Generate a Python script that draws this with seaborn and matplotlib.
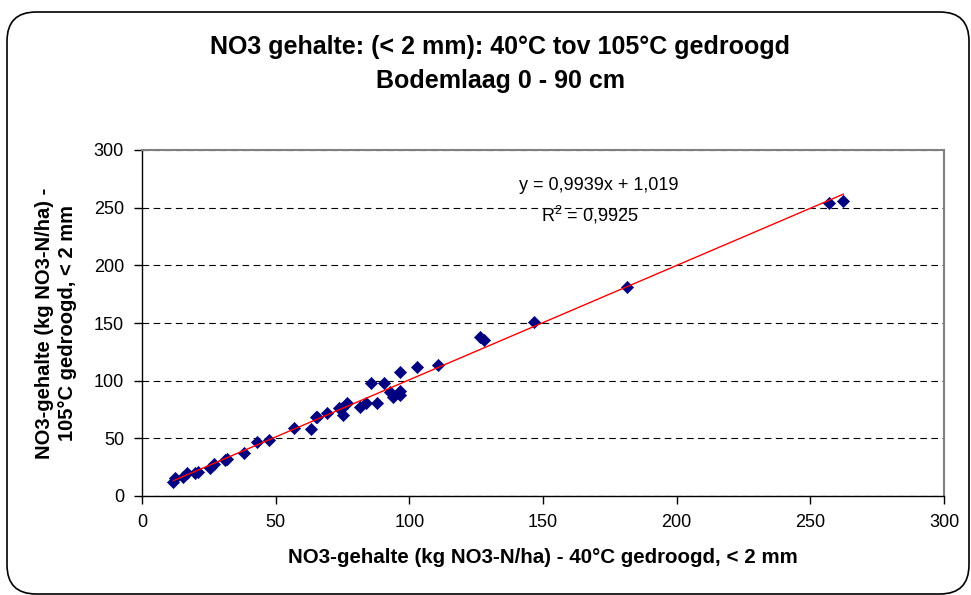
import matplotlib
matplotlib.use("Agg")
import matplotlib.pyplot as plt
import seaborn as sns
import pandas as pd
from matplotlib.patches import FancyBboxPatch

# Data (kg NO3-N/ha)
x_40c = [11.7, 12.3, 15.5, 16.7, 19.8, 21.0, 25.4, 26.9, 31.0, 31.9, 38.2, 42.9, 47.6,
         57.0, 63.1, 65.1, 65.4, 69.1, 73.8, 74.7, 75.3, 76.8, 81.6, 83.8, 87.8, 85.7,
         90.7, 92.8, 93.8, 96.5, 96.5, 96.5, 103.0, 110.9, 126.5, 127.8, 146.8, 181.6,
         257.0, 262.4]
y_105c = [12.4, 15.6, 16.7, 19.7, 19.7, 21.0, 24.0, 27.8, 31.2, 32.1, 37.0, 47.1, 48.6,
          59.2, 57.8, 68.3, 68.8, 72.2, 76.0, 76.0, 70.2, 80.4, 77.5, 80.4, 80.9, 98.3,
          98.3, 90.5, 85.6, 91.3, 87.6, 107.8, 112.1, 113.6, 138.0, 135.5, 150.6, 181.5,
          253.9, 256.1]
x_ticks = [0, 50, 100, 150, 200, 250, 300]
y_ticks = [0, 50, 100, 150, 200, 250, 300]

title = "NO3 gehalte: (< 2 mm): 40°C tov 105°C gedroogd\nBodemlaag 0 - 90 cm"
x_label = "NO3-gehalte (kg NO3-N/ha) - 40°C gedroogd, < 2 mm"
y_label = "NO3-gehalte (kg NO3-N/ha) -\n105°C gedroogd, < 2 mm"
eq_text = "y = 0,9939x + 1,019"
r2_text = "R$^2$ = 0,9925"

df = pd.DataFrame({"x": x_40c, "y": y_105c})

sns.set_theme(style="white")
plt.rcParams["font.family"] = ["Liberation Sans", "DejaVu Sans"]
plt.rcParams["mathtext.fontset"] = "custom"
plt.rcParams["mathtext.rm"] = "Liberation Sans"
plt.rcParams["text.color"] = "black"
plt.rcParams["axes.labelcolor"] = "black"
plt.rcParams["xtick.color"] = "black"
plt.rcParams["ytick.color"] = "black"

fig = plt.figure(figsize=(9.71, 5.95), dpi=100)
W, H = 971, 595
left, right, top, bottom = 142, 944, 150, 496
ax = fig.add_axes([left / W, 1 - bottom / H, (right - left) / W, (bottom - top) / H])

# rounded outer border
border = FancyBboxPatch((7 / W, 1 / H), 962 / W, 582 / H,
                        boxstyle="round,pad=0,rounding_size=0.03",
                        transform=fig.transFigure, fill=False,
                        edgecolor="black", linewidth=1.2, mutation_aspect=W / H)
fig.patches.append(border)

sns.regplot(data=df, x="x", y="y", ax=ax, ci=None, marker="D",
            scatter_kws=dict(s=38, color="#000080", edgecolor="#000080",
                             linewidths=0.5, alpha=1, zorder=3),
            line_kws=dict(color="red", linewidth=1, zorder=4))

ax.set_xlim(0, 300)
ax.set_ylim(0, 300)
ax.set_xticks(x_ticks)
ax.set_yticks(y_ticks)
ax.tick_params(axis="both", direction="out", length=6, width=1, color="black",
               labelsize=13, labelcolor="black", bottom=True, left=True, pad=7)
ax.yaxis.grid(True, linestyle=(0, (6, 4)), color="black", linewidth=0.8)
ax.xaxis.grid(False)
ax.set_axisbelow(True)

for s in ["left", "bottom"]:
    ax.spines[s].set_color("black")
    ax.spines[s].set_linewidth(1)
for s in ["top", "right"]:
    ax.spines[s].set_color("#808080")
    ax.spines[s].set_linewidth(1.5)

ax.set_xlabel(x_label, fontsize=14.8, fontweight="bold", labelpad=12)
ax.set_ylabel(y_label, fontsize=14.5, fontweight="bold", labelpad=12, linespacing=1.3)

fig.text(500 / W, 1 - 64 / H, title, ha="center", va="center", fontsize=18,
         fontweight="bold", linespacing=1.55)

ax.text(171, 269.5, eq_text, ha="center", va="center", fontsize=13)
ax.text(167.5, 244, r2_text, ha="center", va="center", fontsize=13)

fig.savefig("out.png", dpi=100)
